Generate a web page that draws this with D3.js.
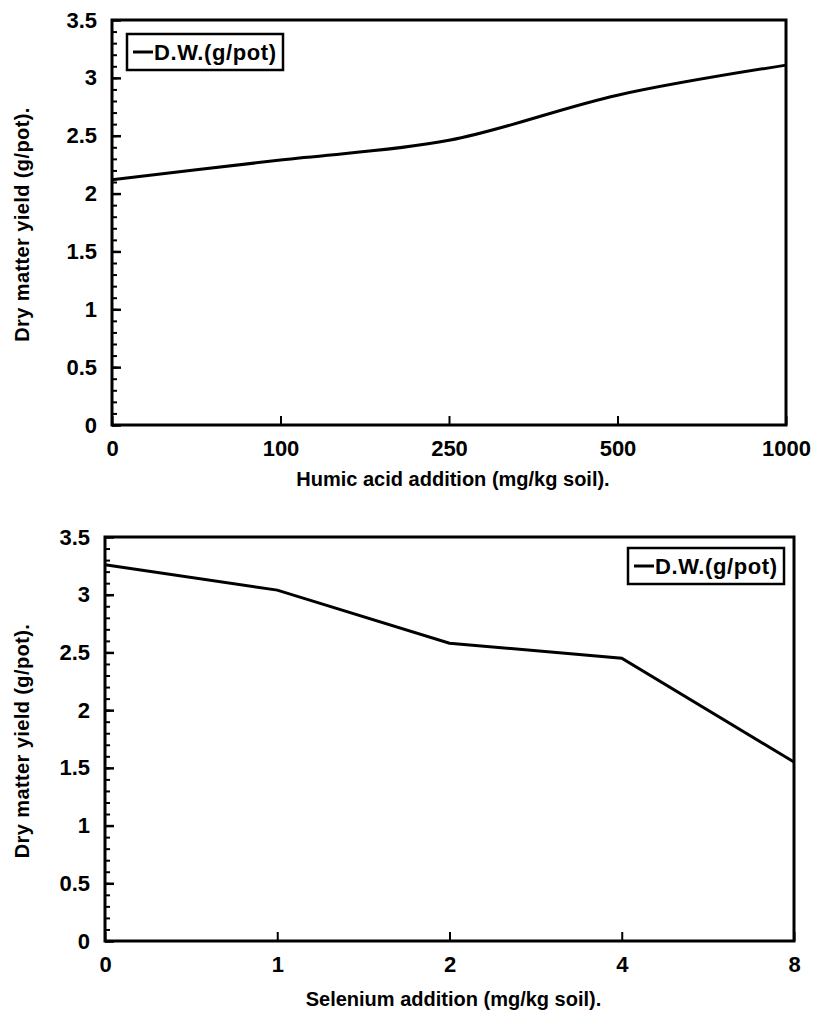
<!DOCTYPE html>
<html lang="en">
<head>
    <meta charset="UTF-8"/>
    <title>Dry matter yield</title>
    <script src="https://d3js.org/d3.v7.min.js"></script>
    <style>
        body { margin: 0; background: #fff; }
        svg text { font-family: "Liberation Sans", Arial, sans-serif; font-weight: bold; fill: #000; }
    </style>
</head>
<body>
<div id="chart"></div>

<script>

    // data
    const humicLevels = ["0", "100", "250", "500", "1000"];
    const humicYield = [2.12, 2.29, 2.46, 2.85, 3.11];

    const seleniumLevels = ["0", "1", "2", "4", "8"];
    const seleniumYield = [3.26, 3.04, 2.58, 2.45, 1.55];

    const yTicks = [0, 0.5, 1, 1.5, 2, 2.5, 3, 3.5];
    const seriesName = "D.W.(g/pot)";
    const yTitle = "Dry matter yield (g/pot).";

    const width = 814, height = 1015;

    const svg = d3.select("#chart")
        .append("svg")
        .attr("width", width)
        .attr("height", height);

    function drawPanel(opts) {
        const {left, right, top, bottom, cats, vals, xTitle, titleOffset, legendX, legendY, curve} = opts;

        const x = d3.scalePoint().domain(cats).range([left, right]).padding(0);
        const y = d3.scaleLinear().domain([0, 3.5]).range([bottom, top]);

        const g = svg.append("g");

        // minor y ticks (inside)
        g.append("g")
            .attr("transform", `translate(${left}, 0)`)
            .call(d3.axisRight(y).tickValues(d3.range(0, 35).map(d => d / 10)).tickSize(5).tickFormat(""))
            .call(a => a.select(".domain").remove())
            .selectAll("line").attr("stroke", "#000").attr("stroke-width", 2);

        // major y ticks + labels
        const yAxis = g.append("g")
            .attr("transform", `translate(${left}, 0)`)
            .call(d3.axisLeft(y).tickValues(yTicks).tickSize(-9).tickPadding(15)
                .tickFormat(d => d3.format("")(d)));
        yAxis.select(".domain").remove();
        yAxis.selectAll("line").attr("stroke", "#000").attr("stroke-width", 2.5);
        yAxis.selectAll("text").style("font-size", "22px").attr("font-family", null);

        // x ticks pointing up, labels below
        const xAxis = g.append("g")
            .attr("transform", `translate(0, ${bottom})`)
            .call(d3.axisBottom(x).tickSize(-9).tickPadding(15));
        xAxis.select(".domain").remove();
        xAxis.selectAll("line").attr("stroke", "#000").attr("stroke-width", 2);
        xAxis.selectAll("text").style("font-size", "22px").attr("font-family", null);

        // frame
        g.append("rect")
            .attr("x", left).attr("y", top)
            .attr("width", right - left).attr("height", bottom - top)
            .attr("fill", "none").attr("stroke", "#000").attr("stroke-width", 3);

        // data line
        const line = d3.line()
            .x((d, i) => x(cats[i]))
            .y(d => y(d))
            .curve(curve);
        g.append("path")
            .datum(vals)
            .attr("d", line)
            .attr("fill", "none")
            .attr("stroke", "#000")
            .attr("stroke-width", 3);

        // legend
        const lg = g.append("g").attr("transform", `translate(${legendX}, ${legendY})`);
        lg.append("rect")
            .attr("width", 156).attr("height", 36)
            .attr("fill", "#fff").attr("stroke", "#000").attr("stroke-width", 2.5);
        lg.append("line")
            .attr("x1", 6).attr("x2", 26).attr("y1", 18).attr("y2", 18)
            .attr("stroke", "#000").attr("stroke-width", 3);
        lg.append("text")
            .attr("x", 27).attr("y", 26)
            .style("font-size", "22px")
            .style("letter-spacing", "0.6px")
            .text(seriesName);

        // axis titles
        g.append("text")
            .attr("x", (left + right) / 2 + 4)
            .attr("y", bottom + titleOffset)
            .style("font-size", "20px")
            .style("text-anchor", "middle")
            .text(xTitle);

        g.append("text")
            .attr("transform", `translate(29, ${(top + bottom) / 2 + 2}) rotate(-90)`)
            .style("font-size", "20px")
            .style("letter-spacing", "0.4px")
            .style("text-anchor", "middle")
            .text(yTitle);
    }

    drawPanel({
        left: 112, right: 786, top: 20, bottom: 425,
        cats: humicLevels, vals: humicYield,
        xTitle: "Humic acid addition (mg/kg soil).", titleOffset: 61,
        legendX: 127, legendY: 34,
        curve: d3.curveMonotoneX
    });

    drawPanel({
        left: 105, right: 794, top: 537, bottom: 941,
        cats: seleniumLevels, vals: seleniumYield,
        xTitle: "Selenium addition (mg/kg soil).", titleOffset: 65,
        legendX: 628, legendY: 548,
        curve: d3.curveLinear
    });

</script>
</body>
</html>
